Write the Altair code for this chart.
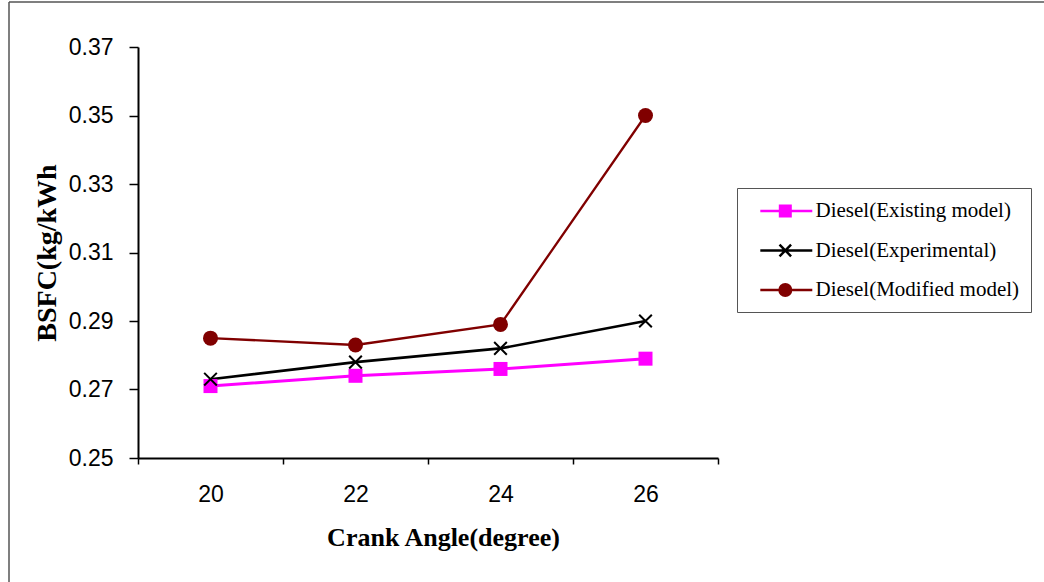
import altair as alt
import pandas as pd

# Crank angle categories and BSFC readings for each series
angles = ["20", "22", "24", "26"]
series_names = [
    "Diesel(Existing model)",
    "Diesel(Experimental)",
    "Diesel(Modified model)",
]
existing = [0.271, 0.274, 0.276, 0.279]
experimental = [0.273, 0.278, 0.282, 0.290]
modified = [0.285, 0.283, 0.289, 0.350]
y_ticks = [0.25, 0.27, 0.29, 0.31, 0.33, 0.35, 0.37]
series_colors = ["#FF00FF", "#000000", "#800000"]
line_widths = [3, 2.3, 2.5]

rows = []
for name, vals in zip(series_names, [existing, experimental, modified]):
    for a, v in zip(angles, vals):
        rows.append({"angle": a, "bsfc": v, "series": name})
df = pd.DataFrame(rows)

# Legend glyphs: a short line with the series marker in its middle
legend_paths = [
    "M0.03,0H4.98M1.91,-0.5H2.91V0.5H1.91Z",
    "M0.03,0H4.98M1.86,-0.55L2.96,0.55M1.86,0.55L2.96,-0.55",
    "M0.03,0H4.98M2.96,0A0.55,0.55 0 1 1 1.86,0A0.55,0.55 0 1 1 2.96,0Z",
]
x_mark_path = "M-1,-1L1,1M-1,1L1,-1"

x_enc = alt.X(
    "angle:O",
    sort=angles,
    bandPosition=0.5,
    scale=alt.Scale(type="band", paddingInner=0, paddingOuter=0),
    axis=alt.Axis(
        title="Crank Angle(degree)",
        labelAngle=0,
        tickBand="extent",
        tickSize=6,
        labelPadding=19,
        titleX=305,
        titleY=87,
        titleAlign="center",
        titleBaseline="alphabetic",
        titleFont="Liberation Serif",
        titleFontSize=26,
        titleFontWeight="bold",
        grid=False,
    ),
)
y_enc = alt.Y(
    "bsfc:Q",
    scale=alt.Scale(domain=[0.25, 0.37], nice=False, zero=False),
    axis=alt.Axis(
        title="BSFC(kg/kWh",
        values=y_ticks,
        format=".2f",
        tickSize=9,
        labelPadding=16,
        titleX=-91,
        titleY=205.5,
        titleAngle=270,
        titleAlign="center",
        titleBaseline="middle",
        titleFont="Liberation Serif",
        titleFontSize=28,
        titleFontWeight="bold",
        grid=False,
    ),
)

base = alt.Chart(df)

# Series lines (series names sort alphabetically in the same order as series_names)
lines = base.mark_line().encode(
    x=x_enc,
    y=y_enc,
    color=alt.Color("series:N", scale=alt.Scale(range=series_colors), legend=None),
    strokeWidth=alt.StrokeWidth("series:N", scale=alt.Scale(range=line_widths), legend=None),
    detail="series:N",
)

squares = (
    base.transform_filter(alt.datum.series == series_names[0])
    .mark_point(shape="square", filled=True, size=196, color=series_colors[0], opacity=1)
    .encode(x=x_enc, y=y_enc)
)
crosses = (
    base.transform_filter(alt.datum.series == series_names[1])
    .mark_point(shape=x_mark_path, filled=False, size=160, strokeWidth=2,
                color=series_colors[1], opacity=1)
    .encode(x=x_enc, y=y_enc)
)
circles = (
    base.transform_filter(alt.datum.series == series_names[2])
    .mark_point(shape="circle", filled=True, size=225, color=series_colors[2], opacity=1)
    .encode(x=x_enc, y=y_enc)
)

legend_props = dict(
    title=None,
    orient="none",
    legendX=599,
    legendY=141,
    padding=11,
    strokeColor="#555555",
    fillColor="white",
    labelFont="Liberation Serif",
    labelFontSize=21,
    labelColor="black",
    labelOffset=43.5,
    labelLimit=400,
    # trailing no-break spaces leave room on the right side of the box
    labelExpr="datum.label + '\u00a0\u00a0\u00a0\u00a0\u00a0\u00a0'",
    rowPadding=16.5,
    symbolSize=441,
    symbolStrokeWidth=2.5,
    symbolOpacity=1,
)

# Layer with no rows of its own: it only carries the legend
legend_layer = (
    base.transform_filter("false")
    .mark_point(size=441, opacity=1)
    .encode(
        x=x_enc,
        y=y_enc,
        fill=alt.Fill(
            "series:N",
            scale=alt.Scale(domain=series_names, range=series_colors),
            legend=alt.Legend(**legend_props),
        ),
        stroke=alt.Stroke(
            "series:N",
            scale=alt.Scale(domain=series_names, range=series_colors),
            legend=alt.Legend(**legend_props),
        ),
        shape=alt.Shape(
            "series:N",
            scale=alt.Scale(domain=series_names, range=legend_paths),
            legend=alt.Legend(**legend_props),
        ),
    )
)

# Outer frame lines around the figure
frame_df = pd.DataFrame({"k": [0]})
frame_left = alt.Chart(frame_df).mark_rule(color="#555555", strokeWidth=1.5).encode(
    x=alt.value(-129), y=alt.value(-45), y2=alt.value(600)
)
frame_top = alt.Chart(frame_df).mark_rule(color="#555555", strokeWidth=1.5).encode(
    x=alt.value(-129), x2=alt.value(1000), y=alt.value(-45)
)

chart = (
    alt.layer(frame_left, frame_top, lines, squares, crosses, circles, legend_layer)
    .properties(
        width=580,
        height=411,
        autosize=alt.AutoSizeParams(type="none"),
        padding={"left": 138, "top": 47, "right": 326, "bottom": 124},
        background="white",
    )
    .configure_view(stroke=None)
    .configure_axis(
        domainColor="black",
        domainWidth=2,
        tickColor="black",
        tickWidth=1.5,
        labelFont="Liberation Sans",
        labelFontSize=23,
        labelColor="black",
        titleColor="black",
    )
)

chart.save("out.html", embed_options={"renderer": "svg", "actions": False})
